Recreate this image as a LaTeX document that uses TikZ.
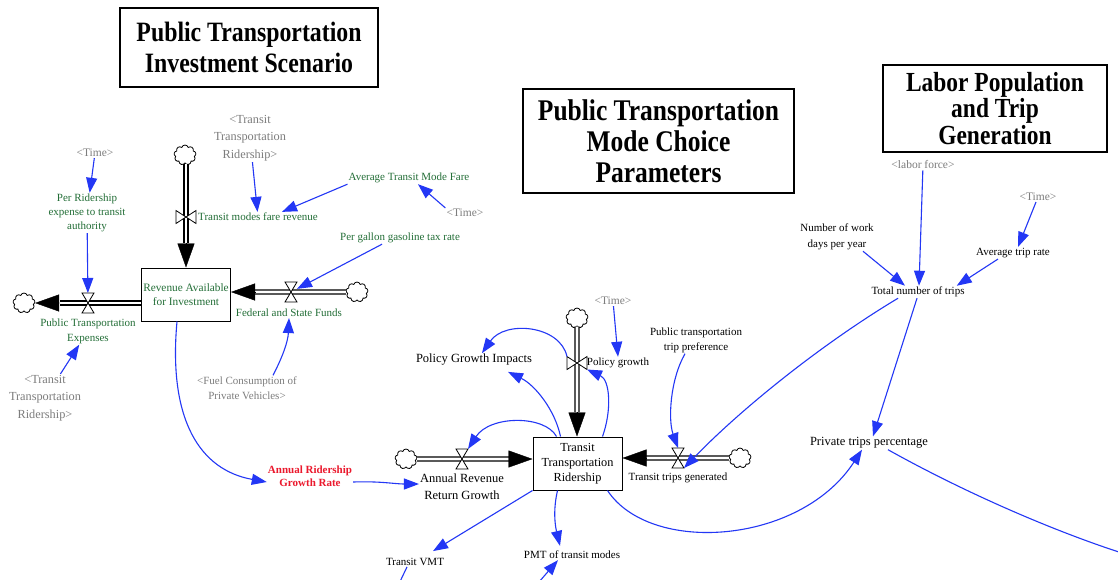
\documentclass[tikz,border=0pt]{standalone}
\usepackage{fontspec}
\setmainfont{Liberation Serif}
\newfontfamily\ttlfont[FakeStretch=0.85]{Liberation Serif}
\usetikzlibrary{arrows.meta,shapes.symbols}
\definecolor{conn}{RGB}{35,55,245}
\definecolor{vgreen}{RGB}{35,110,55}
\definecolor{vgray}{RGB}{125,125,125}
\definecolor{vred}{RGB}{235,25,45}
\tikzset{
  hvpic/.pic={\draw[line width=0.8pt,fill=white] (-6,-10) -- (6,-10) -- (-6,10) -- (6,10) -- cycle;},
  vvpic/.pic={\draw[line width=0.8pt,fill=white] (-10,-6.5) -- (-10,6.5) -- (10,-6.5) -- (10,6.5) -- cycle;},
}
\begin{document}
\begin{tikzpicture}[x=1pt,y=-1pt,
  every node/.style={inner sep=1pt,align=center},
  ttlbox/.style={draw,line width=1.2pt,inner sep=0pt},
  grn/.style={text=vgreen,font=\fontsize{11}{14}\selectfont},
  gry/.style={text=vgray,font=\fontsize{11.5}{14}\selectfont},
  grybig/.style={text=vgray,font=\fontsize{12.3}{17.5}\selectfont},
  blk/.style={font=\fontsize{11}{15}\selectfont},
  blkbig/.style={font=\fontsize{12.5}{17}\selectfont},
  stockbox/.style={draw,line width=1pt,minimum width=89pt,minimum height=53pt,inner sep=0pt},
  hvalve/.style={minimum width=12pt,minimum height=20pt,inner sep=0pt,outer sep=0pt},
  vvalve/.style={minimum width=20pt,minimum height=13pt,inner sep=0pt,outer sep=0pt},
  cloudsym/.style={cloud,draw,cloud puffs=9,aspect=1.1,minimum width=22pt,minimum height=20pt,inner sep=0pt,line width=0.8pt},
  pipe/.style={draw=black,line width=1.3pt,double=white,double distance=2.8pt},
  flowhead/.style={draw=black,line width=0.4pt,-{Triangle[length=24pt,width=17pt]}},
  link/.style={draw=conn,line width=1.1pt,-{Triangle[length=15pt,width=11pt]}},
  plainlink/.style={draw=conn,line width=1.1pt},
]
\fill[white] (0,0) rectangle (1118,579);
\useasboundingbox (0,0) rectangle (1118,579);

% titles
\node[ttlbox,minimum width=258pt,minimum height=79pt,font=\ttlfont\bfseries\fontsize{28}{31}\selectfont] (T1) at (249,47.5) {Public Transportation\\Investment Scenario};
\node[ttlbox,minimum width=271pt,minimum height=104pt,font=\ttlfont\bfseries\fontsize{30}{31}\selectfont] (T2) at (658.5,141) {Public Transportation\\Mode Choice\\Parameters};
\node[ttlbox,minimum width=224pt,minimum height=87pt,font=\ttlfont\bfseries\fontsize{27.6}{26.5}\selectfont] (T3) at (995,108.5) {Labor Population\\and Trip\\Generation};

% stocks
\node[stockbox,text=vgreen,font=\fontsize{11.3}{14}\selectfont] (rev) at (186,294.5) {Revenue Available\\for Investment};
\node[stockbox,font=\fontsize{12.3}{15}\selectfont] (ttr) at (577.5,463.5) {Transit\\Transportation\\Ridership};

% valves
\node[vvalve] (v1) at (186,217) {};
\node[hvalve] (v2) at (88,303) {};
\node[hvalve] (v3) at (291,292) {};
\node[hvalve] (v4) at (462,459) {};
\node[vvalve] (v5) at (577,363) {};
\node[hvalve] (v6) at (678,458) {};

% clouds
\node[cloudsym] (c1) at (185,155) {};
\node[cloudsym] (c2) at (24,303) {};
\node[cloudsym] (c3) at (357,292) {};
\node[cloudsym] (c4) at (406,459) {};
\node[cloudsym] (c5) at (577,318) {};
\node[cloudsym] (c6) at (740,458) {};

% head bases
\coordinate (h1) at (186,243);
\coordinate (h2) at (60,303);
\coordinate (h3) at (255,292);
\coordinate (h4) at (509,459);
\coordinate (h5) at (577,412);
\coordinate (h6) at (646,458);

% pipes
\draw[pipe] (c1.south -| h1) -- (h1);
\draw[flowhead] (h1) -- (h1 |- rev.north);
\draw[pipe] (rev.west |- v2) -- (h2);
\draw[flowhead] (h2) -- (c2);
\draw[pipe] (c3) -- (h3);
\draw[flowhead] (h3) -- (rev.east |- h3);
\draw[pipe] (c4) -- (h4);
\draw[flowhead] (h4) -- (ttr.west |- h4);
\draw[pipe] (c5) -- (h5);
\draw[flowhead] (h5) -- (h5 |- ttr.north);
\draw[pipe] (c6) -- (h6);
\draw[flowhead] (h6) -- (ttr.east |- h6);

\pic at (v1) {vvpic};
\pic at (v2) {hvpic};
\pic at (v3) {hvpic};
\pic at (v4) {hvpic};
\pic at (v5) {vvpic};
\pic at (v6) {hvpic};

% flow labels
\node[grn] (lfare) at (258,217) {Transit modes fare revenue};
\node[grn,font=\fontsize{11}{15}\selectfont] (lexp) at (88,331) {Public Transportation\\Expenses};
\node[grn] (lfed) at (289,313) {Federal and State Funds};
\node[blkbig] (larr) at (462,487) {Annual Revenue\\Return Growth};
\node[blk] (lpg) at (618,363) {Policy growth};
\node[blk] (ltg) at (678,478) {Transit trips generated};

% auxiliaries
\node[gry] (t1) at (95,153) {<Time>};
\node[grn] (prx) at (87,213) {Per Ridership\\expense to transit\\authority};
\node[grybig] (trr1) at (45,398) {<Transit\\Transportation\\Ridership>};
\node[grybig] (trr2) at (250,138) {<Transit\\Transportation\\Ridership>};
\node[grn] (atmf) at (409,178) {Average Transit Mode Fare};
\node[gry] (t2) at (465,213) {<Time>};
\node[grn] (pgt) at (400,238) {Per gallon gasoline tax rate};
\node[gry,font=\fontsize{11}{15}\selectfont] (fuel) at (247,388) {<Fuel Consumption of\\Private Vehicles>};
\node[text=vred,font=\bfseries\fontsize{11}{13.5}\selectfont] (argr) at (310,476) {Annual Ridership\\Growth Rate};
\node[blkbig] (pgi) at (474,360) {Policy Growth Impacts};
\node[gry] (t3) at (613,301) {<Time>};
\node[blk] (ptp) at (696,340) {Public transportation\\trip preference};
\node[blk] (tvmt) at (415,562) {Transit VMT};
\node[blk] (pmt) at (572,555) {PMT of transit modes};
\node[blk,font=\fontsize{11}{16}\selectfont] (nwd) at (837,237) {Number of work\\days per year};
\node[gry] (lf) at (923,165) {<labor force>};
\node[blk] (tnt) at (918,292) {Total number of trips};
\node[gry] (t4) at (1038,197) {<Time>};
\node[blk] (atr) at (1013,253) {Average trip rate};
\node[blkbig] (ptpct) at (869,443) {Private trips percentage};

\coordinate (offR) at (1125,554);
\coordinate (offB1) at (532,590);
\coordinate (offB2) at (396,590);

% links
\draw[link] (t1) -- (prx);
\draw[link] (prx) -- (v2);
\draw[link] (trr1) -- (lexp);
\draw[link] (trr2) -- (lfare);
\draw[link] (atmf.south west) -- ([xshift=24pt]lfare.north);
\draw[link] (t2.north west) -- ([xshift=9pt]atmf.south);
\draw[link] ([xshift=-18pt]pgt.south) -- (v3);
\draw[link] ([xshift=26pt]fuel.north) .. controls (282,358) and (288,342) .. (lfed.south);
\draw[link] ([xshift=-9pt]rev.south) .. controls (168,420) and (200,470) .. ([yshift=-6pt]argr.west);
\draw[link] ([yshift=-6pt]argr.east) .. controls (380,481) and (395,484) .. ([yshift=3pt]larr.west);
\draw[link] ([xshift=24pt]ttr.north west) .. controls (545,415) and (490,415) .. (v4.north east);
\draw[link] ([xshift=28pt]ttr.north west) .. controls (555,410) and (535,385) .. ([xshift=34pt,yshift=-5pt]pgi.south);
\draw[link] (v5.north west) .. controls (560,325) and (505,320) .. ([xshift=8pt]pgi.north);
\draw[link] ([xshift=-20pt]ttr.north east) .. controls (612,410) and (610,380) .. (v5.south east);
\draw[link] (t3) -- (lpg.north);
\draw[link] ([xshift=-11pt]ptp.south) .. controls (670,380) and (668,420) .. (v6.north);
\draw[link] ([xshift=-20pt]tnt.south) .. controls (820,345) and (740,410) .. (v6.south east);
\draw[link] ([xshift=-1pt]tnt.south) -- ([xshift=4pt]ptpct.north);
\draw[link] ([xshift=26pt]nwd.south) -- ([xshift=-13pt]tnt.north);
\draw[link] (lf) -- ([xshift=1pt]tnt.north);
\draw[link] (t4) -- ([xshift=5pt]atr.north);
\draw[link] ([xshift=-15pt]atr.south) -- ([xshift=-9pt]tnt.north east);
\draw[link] ([xshift=-15pt]ttr.south east) .. controls (650,555) and (800,545) .. ([xshift=-7pt]ptpct.south);
\draw[plainlink] ([xshift=19pt]ptpct.south) .. controls (960,490) and (1050,530) .. (offR);
\draw[link] (ttr.south west) -- ([xshift=18pt,yshift=6pt]tvmt.north);
\draw[link] ([xshift=-20pt]ttr.south) .. controls (553,510) and (555,525) .. ([xshift=-12pt,yshift=4pt]pmt.north);
\draw[link] (offB1) -- ([xshift=-14pt]pmt.south);
\draw[plainlink] ([xshift=-8pt]tvmt.south) -- (offB2);
\end{tikzpicture}
\end{document}
